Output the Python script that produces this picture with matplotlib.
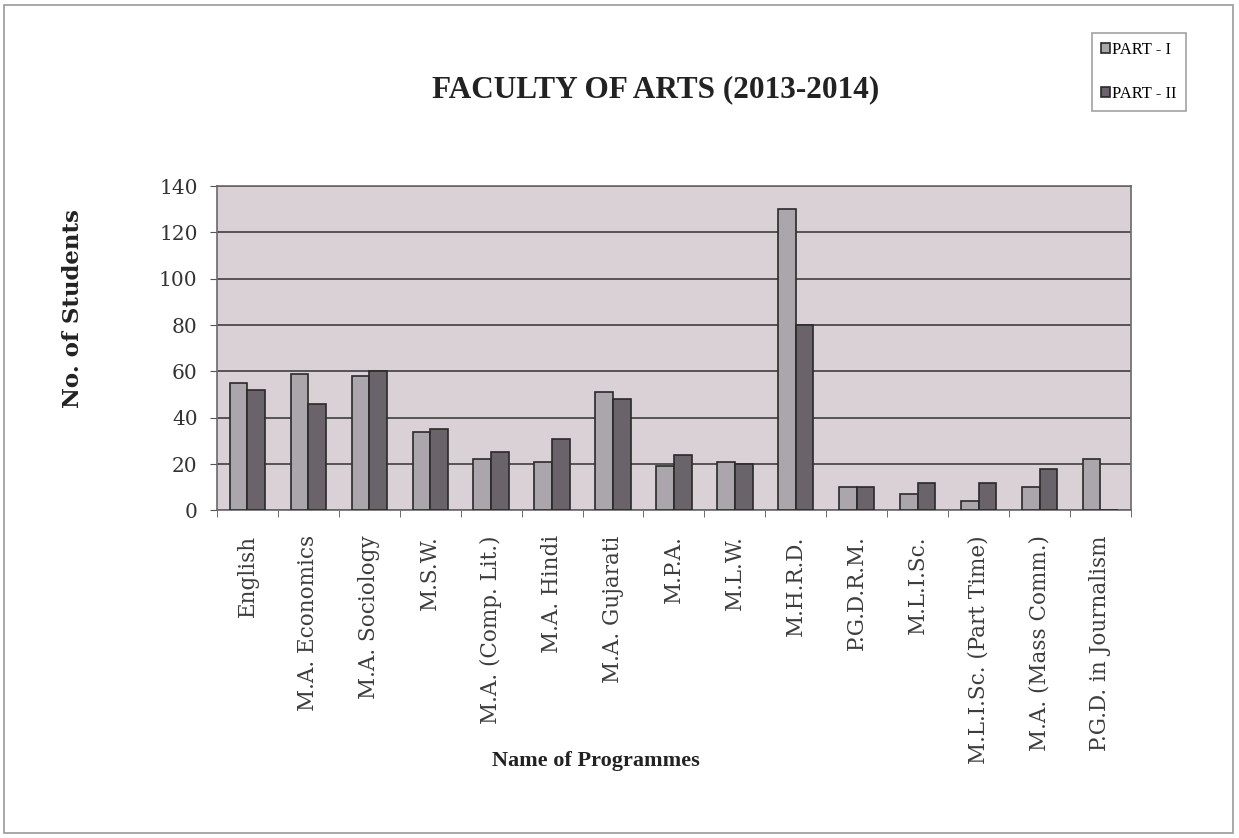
#! /usr/bin/env python3
'''Faculty of Arts student counts, Part I vs Part II.'''

import numpy as np
import matplotlib.pyplot as plt
from matplotlib.patches import Rectangle

programmes = ['English', 'M.A. Economics', 'M.A. Sociology', 'M.S.W.',
              'M.A. (Comp. Lit.)', 'M.A. Hindi', 'M.A. Gujarati', 'M.P.A.',
              'M.L.W.', 'M.H.R.D.', 'P.G.D.R.M.', 'M.L.I.Sc.',
              'M.L.I.Sc. (Part Time)', 'M.A. (Mass Comm.)',
              'P.G.D. in Journalism']
part1 = [55, 59, 58, 34, 22, 21, 51, 19, 21, 130, 10, 7, 4, 10, 22]
part2 = [52, 46, 60, 35, 25, 31, 48, 24, 20, 80, 10, 12, 12, 18, 0]
yticks = [0, 20, 40, 60, 80, 100, 120, 140]

# wide serif for ticks, narrower one for title / legend
plt.rcParams['font.family'] = ['DejaVu Serif']
narrow = ['Liberation Serif']

fig = plt.figure(figsize=(12.39, 8.38), dpi=100)
fig.patches.append(Rectangle((0.003, 0.006), 0.992, 0.988, transform=fig.transFigure,
                             fill=False, edgecolor='#9a9a9a', linewidth=1.2))

ax = fig.add_axes([0.1751, 0.391, 0.7377, 0.387])
ax.set_facecolor('#d9d1d5')

x = np.arange(len(programmes))
w = 0.29
ax.bar(x - w / 2, part1, w, color='#aba6ab', edgecolor='#2a2a2a', linewidth=1.2,
       label='PART - I', zorder=3)
ax.bar(x + w / 2, part2, w, color='#6a6369', edgecolor='#2a2a2a', linewidth=1.2,
       label='PART - II', zorder=3)

ax.set_xlim(-0.5, len(programmes) - 0.5)
ax.set_ylim(0, 140)
ax.set_yticks(yticks)
ax.yaxis.grid(True, color='#4a4a4a', linewidth=1.3, zorder=1)
ax.set_axisbelow(True)

ax.set_xticks(x)
ax.set_xticklabels(programmes, rotation=90)
ax.set_xticks(np.arange(len(programmes) + 1) - 0.5, minor=True)
ax.tick_params(axis='x', which='major', length=0, pad=18, labelsize=15.5,
               labelcolor='#3c3c3c')
ax.tick_params(axis='x', which='minor', length=5, color='#555555')
ax.tick_params(axis='y', labelsize=14.5, length=5, pad=9, color='#555555',
               labelcolor='#333333')

for side in ['left', 'bottom', 'top', 'right']:
    ax.spines[side].set_color('#6a6a6a')
    ax.spines[side].set_linewidth(1.2)

fig.text(0.529, 0.893, 'FACULTY OF ARTS (2013-2014)', ha='center', va='center',
         fontsize=22.5, fontweight='bold', color='#222222', family=narrow)
fig.text(0.059, 0.632, 'No. of Students', rotation=90, ha='center', va='center',
         fontsize=16.5, fontweight='bold', color='#222222')
fig.text(0.481, 0.092, 'Name of Programmes', ha='center', va='center',
         fontsize=16, fontweight='bold', color='#222222', family=narrow)

leg = fig.legend(loc='upper left', bbox_to_anchor=(0.881, 0.961), frameon=True,
                 fancybox=False, edgecolor='#8a8a8a',
                 prop={'family': narrow, 'size': 12},
                 handlelength=0.55, handleheight=0.55, handletextpad=0.15,
                 borderpad=0.55, labelspacing=1.7, borderaxespad=0)
leg.get_frame().set_linewidth(1.2)

fig.savefig('out.png', dpi=100)
